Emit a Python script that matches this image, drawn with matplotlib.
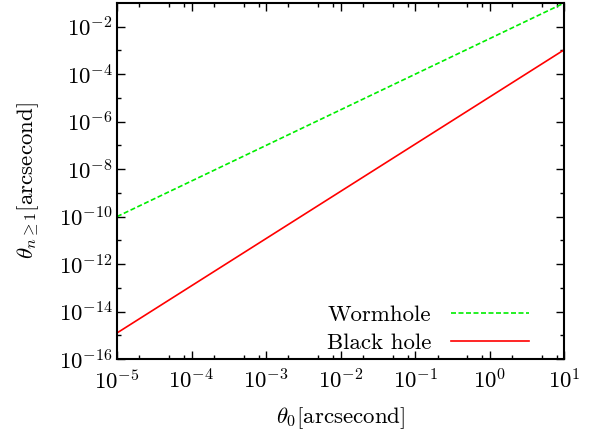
import matplotlib
matplotlib.use("Agg")
import matplotlib.pyplot as plt
from matplotlib.ticker import LogLocator, FixedLocator, FuncFormatter, NullFormatter
import numpy as np

# Data (straight lines on log-log axes)
theta0 = [1e-5, 1e1]
wormhole = [1.0e-10, 1.0e-1]
black_hole = [1.25e-15, 1.07e-3]

xticks = [1e-5, 1e-4, 1e-3, 1e-2, 1e-1, 1e0, 1e1]
yticks = [1e-16, 1e-14, 1e-12, 1e-10, 1e-8, 1e-6, 1e-4, 1e-2]

plt.rcParams['font.family'] = 'serif'
plt.rcParams['font.serif'] = ['cmr10', 'DejaVu Serif']
plt.rcParams['mathtext.fontset'] = 'cm'
plt.rcParams['axes.unicode_minus'] = False

FS = 16.5

fig = plt.figure(figsize=(5.97, 4.32), dpi=100)
ax = fig.add_axes([0.196, 0.169, 0.749, 0.824])

ax.plot(theta0, wormhole, color='#00ee00', ls='--', lw=1.2, dashes=(3, 1.5), label='Wormhole')
ax.plot(theta0, black_hole, color='#ff0000', ls='-', lw=1.2, label='Black hole')

ax.set_xscale('log')
ax.set_yscale('log')
ax.set_xlim(1e-5, 1e1)
ax.set_ylim(1e-16, 1e-1)

def fmt(v, pos):
    e = int(round(np.log10(v)))
    return r'$10^{%d}$' % e

ax.xaxis.set_major_locator(FixedLocator(xticks))
ax.yaxis.set_major_locator(FixedLocator(yticks))
ax.xaxis.set_major_formatter(FuncFormatter(fmt))
ax.yaxis.set_major_formatter(FuncFormatter(fmt))
ax.xaxis.set_minor_locator(LogLocator(base=10, subs=(2, 5, 8), numticks=50))
ax.yaxis.set_minor_locator(FixedLocator([10.0**e for e in range(-15, -1, 2)]))
ax.xaxis.set_minor_formatter(NullFormatter())
ax.yaxis.set_minor_formatter(NullFormatter())

ax.tick_params(which='both', direction='in', top=True, right=True, labelsize=FS, width=1.0)
ax.tick_params(which='major', length=6)
ax.tick_params(which='minor', length=3)
ax.tick_params(axis='x', which='major', pad=7)
ax.tick_params(axis='y', which='major', pad=3)
for s in ax.spines.values():
    s.set_linewidth(1.5)

ax.set_xlabel(r'$\theta_0[\mathrm{arcsecond}]$', fontsize=FS, labelpad=9)
ax.set_ylabel(r'$\theta_{n\geq 1}[\mathrm{arcsecond}]$', fontsize=FS, labelpad=13)

leg = ax.legend(loc='lower right', frameon=False, markerfirst=False, fontsize=FS,
                handlelength=3.4, handletextpad=0.86, labelspacing=0.35,
                borderaxespad=0.0, bbox_to_anchor=(0.941, -0.01))

fig.savefig('out.png', dpi=100)
